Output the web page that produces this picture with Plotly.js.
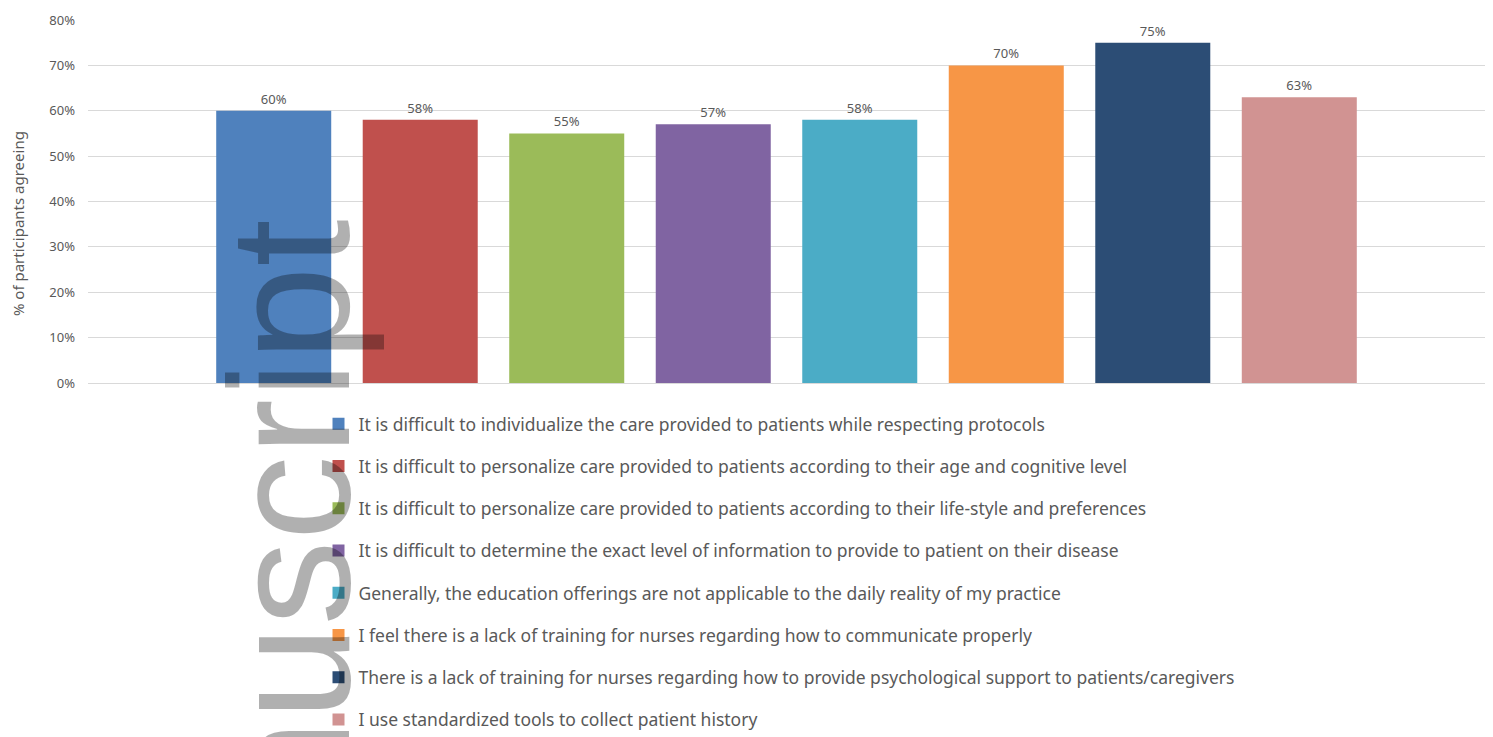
<!DOCTYPE html>
<html>
<head>
<meta charset="utf-8">
<script src="https://cdn.plot.ly/plotly-3.0.1.min.js"></script>
<style>html,body{margin:0;padding:0;background:#fff;}#chart{width:1493px;height:737px;}</style>
</head>
<body>
<div id="chart"></div>
<script>
const statements = [
  "It is difficult to individualize the care provided to patients while respecting protocols",
  "It is difficult to personalize care provided to patients according to their age and cognitive level",
  "It is difficult to personalize care provided to patients according to their life-style and preferences",
  "It is difficult to determine the exact level of information to provide to patient on their disease",
  "Generally, the education offerings are not applicable to the daily reality of my practice",
  "I feel there is a lack of training for nurses regarding how to communicate properly",
  "There is a lack of training for nurses regarding how to provide psychological support to patients/caregivers",
  "I use standardized tools to collect patient history"
];
const agreeing = [0.60, 0.58, 0.55, 0.57, 0.58, 0.70, 0.75, 0.63];
const colors = ["#4f81bd", "#c0504d", "#9bbb59", "#8064a2", "#4bacc6", "#f79646", "#2c4d75", "#d19392"];
const yTicks = [0, 0.1, 0.2, 0.3, 0.4, 0.5, 0.6, 0.7, 0.8];
const yTickText = ["0%", "10%", "20%", "30%", "40%", "50%", "60%", "70%", "80%"];

const traces = statements.map((s, i) => ({
  type: "bar",
  name: s,
  x: [""],
  y: [agreeing[i]],
  text: [Math.round(agreeing[i] * 100) + "%"],
  textposition: "outside",
  cliponaxis: false,
  textfont: {family: "Noto Sans, sans-serif", size: 13, color: "#595959"},
  marker: {color: colors[i]},
  legendgroup: "g" + i,
  hoverinfo: "y+name"
}));

const layout = {
  width: 1493, height: 737,
  margin: {l: 88, r: 8, t: 20, b: 354, autoexpand: false},
  paper_bgcolor: "#ffffff",
  plot_bgcolor: "#ffffff",
  barmode: "group",
  bargap: 0.161,
  bargroupgap: 0.215,
  showlegend: true,
  legend: {
    orientation: "v",
    x: 0.165, xanchor: "left",
    y: -0.063, yanchor: "top",
    font: {family: "Noto Sans, sans-serif", size: 17.5, color: "#595959"},
    tracegroupgap: 16.5,
    itemwidth: 30,
    bgcolor: "rgba(0,0,0,0)"
  },
  xaxis: {showticklabels: false, showgrid: false, zeroline: false, showline: false, ticks: ""},
  yaxis: {
    range: [0, 0.8],
    tickvals: yTicks,
    ticktext: yTickText,
    tickfont: {family: "Noto Sans, sans-serif", size: 13, color: "#595959"},
    gridcolor: "#d9d9d9",
    gridwidth: 1,
    zeroline: true,
    zerolinecolor: "#d9d9d9",
    showline: false,
    ticks: "",
    ticklabelstandoff: 12,
    fixedrange: true
  },
  annotations: [
    {
      text: "% of participants agreeing",
      xref: "paper", yref: "paper",
      x: -0.0501, y: 0.438,
      xanchor: "center", yanchor: "middle",
      textangle: -90, showarrow: false,
      font: {family: "Noto Sans, sans-serif", size: 15, color: "#595959"}
    },
    {
      text: "nuscript",
      xref: "paper", yref: "paper",
      x: 0.1446, y: 0.4545,
      xanchor: "center", yanchor: "top",
      textangle: -90, showarrow: false,
      font: {family: "Liberation Sans, Arial, sans-serif", size: 170, color: "rgba(0,0,0,0.31)"}
    }
  ]
};

Plotly.newPlot("chart", traces, layout, {displayModeBar: false, staticPlot: true});
</script>
</body>
</html>
